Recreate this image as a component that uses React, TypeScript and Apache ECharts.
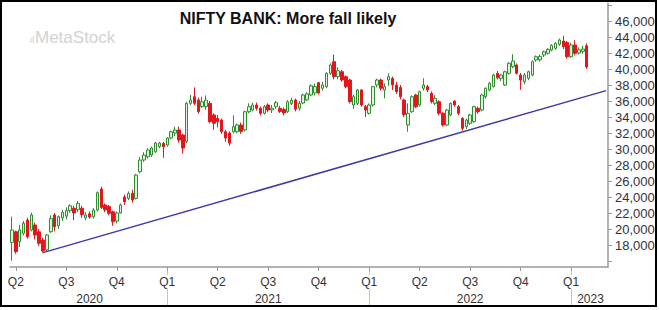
import React, { useEffect, useRef } from 'react';
import * as echarts from 'echarts';

// First weekly bar (week ending Friday) and total number of weekly slots on the axis
const firstWeekEnd = '2020-03-27';
const totalWeeks = 154;

// Weekly candles: [open, close, low, high]
const weeklyOHLC: number[][] = [
  [18290, 19875, 16040, 21540], [19660, 17160, 16900, 19800], [18400, 19875, 17750, 20500], [19460, 20710, 19200, 21000],
  [21125, 19040, 18800, 21400], [19875, 21750, 19700, 22050], [20500, 19250, 18700, 20800], [19660, 18210, 17900, 20000],
  [18625, 17250, 17050, 18900], [17400, 19250, 17200, 19400], [19660, 21300, 19500, 21700], [21750, 20290, 19700, 22000],
  [20400, 21540, 20000, 21700], [21400, 22100, 21000, 22400], [21600, 22300, 21200, 22700], [22300, 22900, 22000, 23100],
  [22600, 22000, 21100, 22900], [22400, 23200, 22100, 23500], [22600, 21800, 21400, 22900], [21400, 21750, 21100, 22100],
  [21900, 21500, 21300, 22200], [21540, 22375, 21300, 22600], [22375, 24540, 22200, 24700], [25000, 22700, 22500, 25300],
  [23000, 22400, 22100, 23200], [22800, 21960, 21700, 23000], [22160, 20910, 20400, 22300], [21000, 22000, 20700, 22200],
  [22000, 23000, 21900, 23200], [24000, 23400, 23000, 24300], [23830, 24460, 23600, 24700], [24460, 23625, 23300, 24900],
  [23830, 26750, 23700, 26900], [27160, 28625, 26960, 29000], [28625, 29250, 28400, 29600], [29040, 29875, 28800, 30100],
  [29250, 30125, 29000, 30300], [29660, 30750, 29500, 30900], [30290, 30750, 30090, 30900], [30710, 30290, 28900, 30900],
  [30500, 31375, 30300, 31500], [31375, 32160, 31200, 32300], [32000, 32375, 31600, 32800], [32375, 31125, 30800, 32790],
  [31750, 30125, 29450, 31900], [30910, 35710, 30700, 35900], [35710, 36125, 35500, 36750], [36540, 35710, 35500, 37700],
  [36125, 34660, 34400, 36400], [35290, 35900, 35090, 36540], [35290, 36100, 34900, 36700], [35710, 33410, 33200, 36000],
  [34250, 33210, 32400, 34460], [33830, 33410, 32700, 34250], [33625, 32160, 31900, 33800], [32160, 31375, 30910, 32375],
  [32000, 30750, 30400, 32200], [32160, 32790, 31960, 34200], [32160, 33000, 31960, 33200], [33000, 32200, 31900, 33300],
  [32375, 34660, 32200, 34800], [34660, 35290, 34460, 35710], [34875, 35500, 34700, 35790], [35500, 35090, 34800, 35800],
  [35090, 34460, 34200, 35300], [34460, 35290, 34300, 35500], [35500, 34875, 34600, 35700], [34875, 35100, 34500, 35500],
  [35290, 35790, 35000, 36000], [35090, 34700, 34500, 35400], [34960, 34500, 34200, 35200], [34660, 35910, 34500, 36100],
  [35700, 36100, 35500, 36400], [36125, 34960, 34700, 36300], [35090, 35700, 34800, 36000], [35750, 36750, 35600, 36900],
  [36125, 36900, 36000, 37100], [36750, 37900, 36600, 38100], [37000, 37800, 36700, 38200], [38290, 37000, 36800, 38400],
  [37590, 38000, 37300, 38400], [37790, 39460, 37600, 39600], [39460, 40500, 39250, 40710], [40910, 39040, 38700, 41790],
  [39040, 39790, 38700, 40200], [39660, 38625, 38400, 39900], [39040, 37790, 37600, 39200], [38625, 35910, 35700, 38800],
  [35500, 36540, 35000, 36800], [35710, 37375, 35500, 37500], [37375, 35500, 35300, 37500], [35290, 34875, 34000, 35500],
  [34460, 35500, 34300, 35700], [35500, 37790, 35300, 37900], [38000, 38625, 37700, 38800], [38625, 37590, 37300, 38800],
  [37375, 37790, 36330, 38210], [38625, 39040, 37900, 39460], [38830, 38000, 37375, 39040], [38000, 37160, 36900, 38400],
  [37700, 36540, 36200, 38000], [36125, 34300, 34000, 36300], [33000, 34460, 32160, 35700], [34660, 36540, 34500, 36700],
  [36750, 35290, 35100, 36900], [35500, 37160, 35300, 37300], [37590, 38000, 37300, 38840], [37790, 37375, 37100, 38000],
  [36960, 35910, 35700, 37200], [35710, 36330, 35500, 36750], [35910, 34460, 34200, 36100], [34460, 33000, 32800, 34600],
  [33000, 34875, 32900, 35000], [34250, 35710, 34100, 35800], [36000, 35500, 35300, 36100], [35290, 34460, 34200, 35500],
  [33830, 32580, 32300, 34000], [32790, 33625, 32500, 33800], [33210, 34250, 33000, 34400], [33410, 35290, 33300, 35400],
  [35090, 34660, 34400, 35300], [34875, 36750, 34700, 36900], [36540, 37590, 36300, 37700], [37375, 38210, 37200, 38400],
  [37790, 39250, 37700, 39400], [39460, 38900, 38700, 39750], [38830, 39250, 38500, 39400], [38000, 39660, 37900, 39800],
  [39460, 40710, 39300, 40850], [40290, 41000, 40100, 41840], [40500, 39460, 39300, 40700], [39250, 38625, 37400, 39500],
  [38410, 39250, 38100, 39500], [38830, 39660, 38600, 39800], [39250, 40910, 39100, 41100], [41125, 41540, 40900, 41700],
  [41150, 41550, 40900, 41800], [41750, 42160, 41500, 42300], [41960, 42450, 41800, 42600], [42375, 42950, 42200, 43100],
  [42590, 43210, 42400, 43350], [43090, 43625, 42900, 43800], [43500, 42800, 42500, 44150], [43300, 41540, 41300, 43500],
  [41540, 43000, 41400, 43300], [43000, 41960, 41700, 43600], [42000, 42400, 41800, 42700], [42200, 42500, 41900, 42900],
  [42900, 40250, 40000, 43200],
];

// Quarter boundaries shown on the time axis
const quarterStarts = [
  '2020-04-01', '2020-07-01', '2020-10-01', '2021-01-01', '2021-04-01', '2021-07-01', '2021-10-01',
  '2022-01-01', '2022-04-01', '2022-07-01', '2022-10-01', '2023-01-01',
];
const quarterNames = ['Q2', 'Q3', 'Q4', 'Q1', 'Q2', 'Q3', 'Q4', 'Q1', 'Q2', 'Q3', 'Q4', 'Q1'];
const yearStarts = ['2021-01-01', '2022-01-01', '2023-01-01'];
const yearNames = ['2020', '2021', '2022', '2023'];

// Price axis
const yMin = 15250;
const yMax = 48250;
const yTickValues = [16000, 18000, 20000, 22000, 24000, 26000, 28000, 30000, 32000, 34000, 36000, 38000, 40000, 42000, 44000, 46000, 48000];
const yLabelValues = [18000, 20000, 22000, 24000, 26000, 28000, 30000, 32000, 34000, 36000, 38000, 40000, 42000, 44000, 46000];

// Support trendline
const trendDates = ['2020-05-22', '2023-03-03'];
const trendValues = [17050, 37300];

const DAY = 86400000;

function buildCategories(): string[] {
  const start = Date.parse(firstWeekEnd + 'T00:00:00Z');
  const out: string[] = [];
  for (let i = 0; i < totalWeeks; i++) {
    out.push(new Date(start + i * 7 * DAY).toISOString().slice(0, 10));
  }
  return out;
}

function nearestWeekIndex(cats: string[], date: string): number {
  const t = Date.parse(date + 'T00:00:00Z');
  let best = 0;
  let bestD = Infinity;
  cats.forEach((c, i) => {
    const d = Math.abs(Date.parse(c + 'T00:00:00Z') - t);
    if (d < bestD) {
      bestD = d;
      best = i;
    }
  });
  return best;
}

export default function App() {
  const ref = useRef<HTMLDivElement>(null);

  useEffect(() => {
    if (!ref.current) return;
    const chart = echarts.init(ref.current, undefined, { renderer: 'svg' });

    const cats = buildCategories();
    const qIdx = quarterStarts.map((d) => nearestWeekIndex(cats, d));
    const qLabelMap = new Map<number, string>();
    qIdx.forEach((i, k) => qLabelMap.set(i, quarterNames[k]));
    const yIdx = yearStarts.map((d) => nearestWeekIndex(cats, d));
    const bounds = [-0.5, ...yIdx, totalWeeks - 0.5];
    const yearLabelMap = new Map<number, string>();
    yearNames.forEach((name, k) => {
      yearLabelMap.set(Math.round((bounds[k] + bounds[k + 1]) / 2), name);
    });
    const yearTickSet = new Set(yIdx);

    const candleData = cats.map((c, i) => (i < weeklyOHLC.length ? weeklyOHLC[i] : '-'));
    const trendData = trendDates.map((d, i) => [d, trendValues[i]]);

    const font = 'Liberation Sans, Arial, Helvetica, sans-serif';

    chart.setOption({
      animation: false,
      backgroundColor: '#ffffff',
      grid: { left: 10, right: 52, top: 3, bottom: 43, containLabel: false },
      xAxis: [
        {
          type: 'category',
          data: cats,
          boundaryGap: true,
          z: 3,
          axisLine: { show: true, lineStyle: { color: '#9a9a9a', width: 1.5 } },
          axisTick: {
            show: true,
            alignWithLabel: true,
            length: 4,
            interval: (i: number) => qLabelMap.has(i),
            lineStyle: { color: '#9a9a9a' },
          },
          axisLabel: {
            interval: (i: number) => qLabelMap.has(i),
            formatter: (_v: string, i: number) => qLabelMap.get(i) || '',
            color: '#333333',
            fontSize: 12,
            fontFamily: font,
            margin: 8,
            backgroundColor: '#ffffff',
            padding: [1, 1],
          },
          splitLine: { show: false },
        },
        {
          type: 'category',
          data: cats,
          position: 'bottom',
          offset: 0,
          z: 1,
          boundaryGap: true,
          axisLine: { show: false },
          axisTick: {
            show: true,
            alignWithLabel: true,
            length: 40,
            interval: (i: number) => yearTickSet.has(i),
            lineStyle: { color: '#c4c4c4' },
          },
          axisLabel: {
            interval: (i: number) => yearLabelMap.has(i),
            formatter: (_v: string, i: number) => yearLabelMap.get(i) || '',
            color: '#333333',
            fontSize: 12,
            fontFamily: font,
            margin: 26,
          },
          splitLine: { show: false },
        },
      ],
      yAxis: {
        type: 'value',
        position: 'right',
        min: yMin,
        max: yMax,
        axisLine: { show: true, lineStyle: { color: '#9a9a9a', width: 1.5 } },
        axisTick: { show: true, length: 4, customValues: yTickValues, lineStyle: { color: '#9a9a9a' } },
        axisLabel: {
          customValues: yLabelValues,
          formatter: (v: number) => v.toLocaleString('en-US'),
          color: '#333333',
          fontSize: 13,
          fontFamily: font,
          margin: 7,
        },
        splitLine: { show: false },
      },
      series: [
        {
          type: 'candlestick',
          xAxisIndex: 0,
          data: candleData,
          barWidth: 3,
          itemStyle: {
            color: '#e2f2e2',
            color0: '#e3161e',
            borderColor: '#2f8f2f',
            borderColor0: '#e3161e',
            borderWidth: 1,
          },
        },
        {
          type: 'line',
          xAxisIndex: 0,
          data: trendData,
          symbol: 'none',
          lineStyle: { color: '#3d3aa8', width: 1.5 },
          z: 3,
        },
      ],
      graphic: [
        {
          type: 'group',
          silent: true,
          children: [
            { type: 'rect', shape: { x: 30, y: 39, width: 0.8, height: 4 }, style: { fill: '#d6d6d6' } },
            { type: 'rect', shape: { x: 31.6, y: 37, width: 0.8, height: 6 }, style: { fill: '#d6d6d6' } },
            { type: 'rect', shape: { x: 33.2, y: 35, width: 0.8, height: 8 }, style: { fill: '#d6d6d6' } },
            {
              type: 'text',
              x: 35,
              y: 37,
              style: {
                text: 'MetaStock',
                fill: '#d2d2d2',
                font: '17px ' + font,
                textAlign: 'left',
                textVerticalAlign: 'middle',
              },
            },
          ],
        },
        {
          type: 'text',
          x: 288,
          y: 18,
          style: {
            text: 'NIFTY BANK: More fall likely',
            fill: '#111111',
            font: 'bold 16px ' + font,
            textAlign: 'center',
            textVerticalAlign: 'middle',
          },
        },
        {
          type: 'rect',
          silent: true,
          z: 100,
          shape: { x: 1, y: 1, width: 655, height: 305 },
          style: { fill: 'none', stroke: '#000000', lineWidth: 2 },
        },
      ],
    });

    return () => chart.dispose();
  }, []);

  return <div ref={ref} style={{ position: 'absolute', left: 0, top: 0, width: 660, height: 310 }} />;
}
